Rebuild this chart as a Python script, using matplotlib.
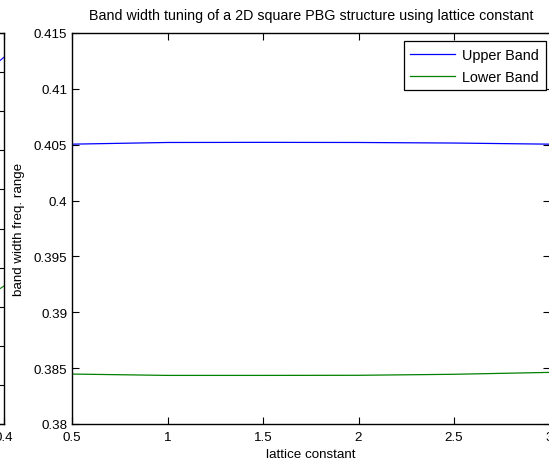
import matplotlib.pyplot as plt

plt.rcParams['font.family'] = ['Liberation Sans', 'DejaVu Sans']
plt.rcParams['font.size'] = 9.6

# main plot data
lattice = [0.5, 1.0, 1.5, 2.0, 2.5, 3.0]
upper_band = [0.40505, 0.40520, 0.40521, 0.40520, 0.40515, 0.40505]
lower_band = [0.38447, 0.38435, 0.38435, 0.38436, 0.38445, 0.38462]

# partly visible neighbouring plot on the left edge
side_x = [0.396, 0.4]
side_upper = [0.3928, 0.3938]
side_lower = [0.3345, 0.3353]

W, H = 549, 464
fig = plt.figure(figsize=(W / 100, H / 100), dpi=100)


def px_axes(x0, y0, x1, y1):
    # pixel box (top-left origin) -> figure axes
    return fig.add_axes([x0 / W, 1 - y1 / H, (x1 - x0) / W, (y1 - y0) / H])


def matlab_ticks(ax):
    ax.tick_params(direction='in', top=True, right=True, length=5, width=0.8)
    ax.tick_params(axis='x', pad=5)
    for s in ax.spines.values():
        s.set_linewidth(1.0)


# left (cut off) axes
ax0 = px_axes(-470, 34, 4, 425)
ax0.plot(side_x, side_upper, color='b', lw=0.8)
ax0.plot(side_x, side_lower, color='g', lw=0.8)
ax0.set_xlim(0.0, 0.4)
ax0.set_ylim(0.30, 0.40)
ax0.set_yticks([0.30 + 0.01 * i for i in range(11)])
ax0.set_xticks([0.4])
ax0.set_xticklabels(['0.4'])
ax0.set_yticklabels([])
matlab_ticks(ax0)

# main axes
ax = px_axes(72, 34, 549.5, 425)
ax.plot(lattice, upper_band, color='b', lw=0.9, label='Upper Band')
ax.plot(lattice, lower_band, color='g', lw=0.9, label='Lower Band')
ax.set_xlim(0.5, 3.0)
ax.set_ylim(0.38, 0.415)
ax.set_xticks([0.5, 1, 1.5, 2, 2.5, 3])
ax.set_xticklabels(['0.5', '1', '1.5', '2', '2.5', '3'])
ax.set_yticks([0.38, 0.385, 0.39, 0.395, 0.4, 0.405, 0.41, 0.415])
ax.set_yticklabels(['0.38', '0.385', '0.39', '0.395', '0.4', '0.405', '0.41', '0.415'])
matlab_ticks(ax)
ax.set_title('Band width tuning of a 2D square PBG structure using lattice constant',
             fontsize=10.3, pad=10)
ax.set_xlabel('lattice constant', labelpad=4)
ax.set_ylabel('band width freq. range', labelpad=6)

leg = ax.legend(loc='upper right', bbox_to_anchor=(0.992, 0.979), fancybox=False,
                framealpha=1, edgecolor='black', fontsize=10.4, borderpad=0.45,
                handlelength=3.1, labelspacing=0.55, handletextpad=0.5, borderaxespad=0)
leg.get_frame().set_linewidth(0.9)

fig.savefig('out.png', dpi=100)
